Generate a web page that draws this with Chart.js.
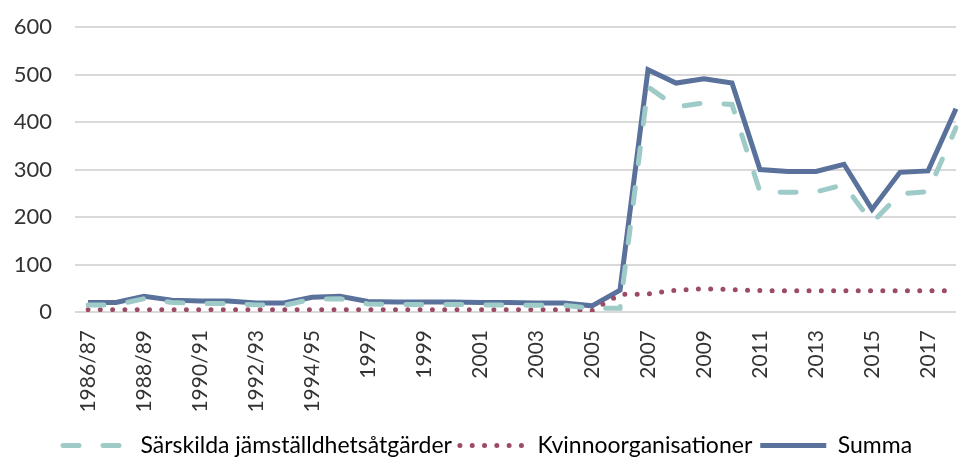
<!DOCTYPE html>
<html>
<head>
<meta charset="utf-8">
<script src="https://cdn.jsdelivr.net/npm/chart.js@4"></script>
<style>
	html, body { margin: 0; padding: 0; background: #fff; }
	#wrap { width: 961px; height: 458px; }
</style>
</head>
<body>
<div id="wrap"><canvas id="myChart"></canvas></div>
<script>
var years = [
	'1986/87', '1987/88', '1988/89', '1989/90', '1990/91', '1991/92', '1992/93', '1993/94', '1994/95', '1995/96',
	'1997', '1998', '1999', '2000', '2001', '2002', '2003', '2004', '2005', '2006',
	'2007', '2008', '2009', '2010', '2011', '2012', '2013', '2014', '2015', '2016', '2017', '2018'
];
var sarskilda = [15, 15, 28, 20, 18, 18, 15, 14, 27, 28, 17, 16, 16, 16, 15, 15, 14, 14, 8, 8,
	474, 432, 440, 437, 253, 252, 253, 268, 188, 249, 253, 388];
var kvinno = [5, 5, 5, 5, 5, 5, 5, 5, 5, 5, 5, 5, 5, 5, 5, 5, 5, 5, 3, 37,
	38, 46, 49, 47, 45, 45, 45, 45, 45, 45, 45, 45];
var summa = [20, 20, 33, 25, 23, 23, 19, 19, 31, 33, 22, 21, 21, 21, 20, 20, 19, 19, 13, 46,
	510, 482, 491, 482, 300, 296, 296, 311, 216, 294, 297, 428];
var yTicks = [0, 100, 200, 300, 400, 500, 600];

Chart.defaults.font.family = 'Lato, sans-serif';
Chart.defaults.font.weight = 400;
Chart.defaults.color = '#333';

// legend starts at x=63 in the original, not centred
var placeLegend = {
	id: 'placeLegend',
	afterLayout: function(chart) {
		chart.legend.left = 55;
	}
};

var ctx = document.getElementById('myChart');
var myChart = new Chart(ctx, {
	type: 'line',
	data: {
		labels: years,
		datasets: [{
			label: 'Särskilda jämställdhetsåtgärder',
			data: sarskilda,
			borderColor: '#9ecbc8',
			backgroundColor: '#9ecbc8',
			borderWidth: 5,
			borderDash: [16, 24],
			borderCapStyle: 'round',
			pointRadius: 0,
			tension: 0
		}, {
			label: 'Kvinnoorganisationer',
			data: kvinno,
			borderColor: '#9b4b64',
			backgroundColor: '#9b4b64',
			borderWidth: 5,
			borderDash: [0, 12.3],
			borderCapStyle: 'round',
			pointRadius: 0,
			tension: 0
		}, {
			label: 'Summa',
			data: summa,
			borderColor: '#5a729b',
			backgroundColor: '#5a729b',
			borderWidth: 5,
			borderJoinStyle: 'miter',
			pointRadius: 0,
			tension: 0
		}]
	},
	plugins: [placeLegend],
	options: {
		responsive: true,
		maintainAspectRatio: false,
		animation: false,
		layout: { padding: { top: 27, right: 5, left: 0, bottom: -9 } },
		plugins: {
			tooltip: { enabled: false },
			legend: {
				position: 'bottom',
				align: 'start',
				labels: {
					usePointStyle: true,
					pointStyleWidth: 66,
					boxHeight: 5,
					padding: 8,
					font: { size: 23, weight: 400 },
					color: '#333',
					generateLabels: function(chart) {
						return chart.data.datasets.map(function(ds, i) {
							return {
								text: ds.label,
								datasetIndex: i,
								fillStyle: ds.borderColor,
								strokeStyle: ds.borderColor,
								lineWidth: ds.borderWidth,
								lineDash: ds.borderDash || [],
								lineCap: ds.borderCapStyle || 'butt',
								pointStyle: 'line',
								hidden: false
							};
						});
					}
				}
			}
		},
		scales: {
			x: {
				grid: { display: false },
				border: { display: false },
				ticks: {
					autoSkip: false,
					maxRotation: 90,
					minRotation: 90,
					padding: 10,
					font: { size: 21 },
					callback: function(val, index) {
						return index % 2 == 0 ? years[index] : '';
					}
				},
				afterFit: function(scale) {
					scale.height = 114;
					scale.paddingLeft = 0;
					scale.paddingRight = 0;
				}
			},
			y: {
				min: 0,
				max: 600,
				afterBuildTicks: function(scale) {
					scale.ticks = yTicks.map(function(v) { return { value: v }; });
				},
				afterFit: function(scale) {
					scale.width = 88;
					scale.paddingTop = 0;
					scale.paddingBottom = 0;
				},
				border: { display: false },
				grid: { color: '#d9d9d9', lineWidth: 2, tickLength: 13, tickColor: '#d9d9d9' },
				ticks: { padding: 23, font: { size: 22 } }
			}
		}
	}
});
</script>
</body>
</html>
